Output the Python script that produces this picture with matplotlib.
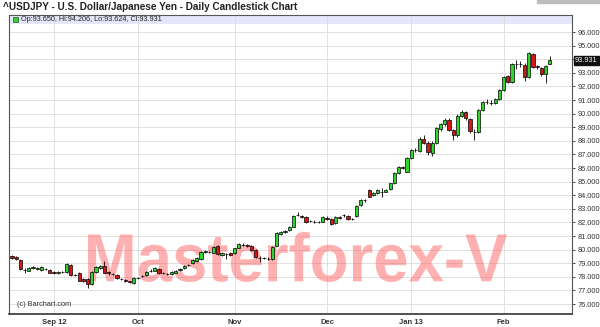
import matplotlib
matplotlib.use("Agg")
import matplotlib.pyplot as plt
from matplotlib.font_manager import FontProperties
from matplotlib.patches import PathPatch, Rectangle
from matplotlib.textpath import TextPath
from matplotlib.transforms import Affine2D, blended_transform_factory

plt.rcParams["font.family"] = ["Liberation Sans", "DejaVu Sans"]

# daily USDJPY, 2012-08-20 .. 2013-02-18 (trading-day index)
opens = [79.53, 79.43, 79.24, 78.52, 78.45, 78.68, 78.58, 78.50, 78.58, 78.50,
         78.32, 78.30, 78.36, 78.33, 78.87, 78.15, 78.25, 77.81, 77.81, 77.45,
         78.33, 78.62, 78.79, 78.38, 78.23, 78.13, 77.83, 77.74, 77.66, 77.57,
         77.92, 78.05, 78.13, 78.43, 78.45, 78.55, 78.27, 78.22, 78.20, 78.30,
         78.53, 78.62, 78.85, 79.00, 79.19, 79.30, 79.85, 79.82, 79.78, 80.26,
         79.60, 79.68, 79.77, 79.75, 80.15, 80.36, 80.31, 80.26, 79.97, 79.38,
         79.38, 79.33, 79.28, 80.30, 81.12, 81.33, 81.42, 81.69, 82.52, 82.44,
         82.38, 82.08, 82.06, 82.04, 82.05, 82.35, 82.25, 81.93, 82.36, 82.52,
         82.49, 82.26, 82.45, 83.28, 83.62, 84.38, 84.01, 84.19, 84.27, 84.26,
         84.43, 84.87, 85.61, 86.10, 85.73, 86.71, 87.30, 87.22, 88.10, 87.85,
         87.10, 87.85, 88.85, 89.20, 89.50, 88.80, 88.40, 89.85, 90.10, 89.60,
         88.68, 88.67, 90.25, 90.85, 90.80, 90.75, 91.05, 91.74, 92.76, 92.35,
         93.63, 93.62, 93.57, 92.72, 94.38, 93.46, 93.33, 92.91, 93.650]
highs = [79.62, 79.50, 79.30, 78.62, 78.70, 78.78, 78.75, 78.76, 78.66, 78.58,
         78.40, 78.42, 78.45, 79.00, 78.95, 78.22, 78.32, 77.90, 77.88, 78.40,
         78.78, 78.85, 79.19, 78.45, 78.30, 78.20, 77.90, 77.82, 77.72, 77.95,
         78.02, 78.15, 78.45, 78.58, 78.70, 78.62, 78.35, 78.30, 78.45, 78.52,
         78.62, 78.85, 78.95, 79.30, 79.42, 79.92, 79.95, 79.92, 80.30, 80.35,
         79.82, 79.78, 79.85, 80.15, 80.45, 80.50, 80.42, 80.32, 80.02, 79.50,
         79.48, 79.42, 80.30, 81.28, 81.40, 81.45, 81.75, 82.55, 82.79, 82.55,
         82.45, 82.18, 82.15, 82.12, 82.48, 82.45, 82.30, 82.48, 82.45, 82.65,
         82.58, 82.35, 83.28, 83.70, 83.75, 84.45, 84.25, 84.42, 84.50, 84.45,
         84.92, 85.68, 86.15, 86.18, 86.78, 87.40, 87.45, 88.25, 88.45, 87.95,
         87.95, 89.00, 89.30, 89.65, 89.65, 88.90, 89.95, 90.25, 90.20, 89.70,
         88.85, 90.35, 90.95, 91.05, 91.00, 91.15, 91.80, 92.75, 92.85, 93.72,
         93.95, 93.90, 93.70, 94.50, 94.45, 93.60, 93.45, 93.60, 94.206]
lows = [79.30, 79.20, 78.48, 78.25, 78.40, 78.60, 78.52, 78.45, 78.48, 78.25,
        78.22, 78.24, 78.28, 78.28, 78.05, 78.05, 77.68, 77.65, 77.15, 77.40,
        78.28, 78.55, 78.25, 78.15, 78.12, 77.85, 77.74, 77.65, 77.55, 77.45,
        77.85, 77.98, 78.08, 78.36, 78.40, 78.20, 78.18, 78.12, 78.15, 78.25,
        78.45, 78.58, 78.78, 78.95, 79.12, 79.25, 79.75, 79.72, 79.72, 79.60,
        79.52, 79.28, 79.55, 79.70, 80.10, 80.25, 80.20, 79.92, 79.38, 79.11,
        79.28, 79.22, 79.22, 80.25, 81.05, 81.25, 81.38, 81.65, 82.45, 82.35,
        81.98, 82.00, 81.98, 81.96, 82.00, 82.18, 81.80, 81.88, 82.28, 82.40,
        82.20, 82.18, 82.40, 83.22, 83.50, 83.85, 83.95, 84.12, 83.90, 84.20,
        84.38, 84.80, 85.55, 85.90, 85.68, 86.65, 87.15, 87.15, 87.75, 86.95,
        86.85, 87.78, 88.75, 89.10, 88.70, 88.05, 88.30, 89.78, 89.55, 88.60,
        88.05, 88.60, 90.20, 90.70, 90.65, 90.70, 91.00, 91.65, 92.25, 92.28,
        93.30, 93.40, 92.40, 92.65, 93.35, 93.30, 92.80, 92.23, 93.624]
closes = [79.36, 79.28, 78.55, 78.50, 78.62, 78.70, 78.68, 78.70, 78.55, 78.30,
          78.30, 78.33, 78.38, 78.92, 78.13, 78.13, 77.72, 77.72, 77.45, 78.33,
          78.70, 78.79, 78.30, 78.30, 78.21, 77.89, 77.81, 77.72, 77.64, 77.89,
          77.94, 78.06, 78.38, 78.45, 78.62, 78.25, 78.25, 78.21, 78.38, 78.45,
          78.55, 78.79, 78.87, 79.24, 79.36, 79.85, 79.86, 79.80, 80.22, 79.68,
          79.75, 79.66, 79.62, 80.09, 80.38, 80.34, 80.29, 79.97, 79.43, 79.36,
          79.36, 79.28, 80.22, 81.20, 81.32, 81.35, 81.69, 82.49, 82.55, 82.42,
          82.05, 82.10, 82.05, 82.05, 82.42, 82.25, 81.88, 82.42, 82.35, 82.54,
          82.25, 82.25, 83.21, 83.65, 83.63, 83.89, 84.19, 84.38, 84.25, 84.38,
          84.87, 85.61, 86.10, 85.98, 86.71, 87.32, 87.32, 88.15, 87.85, 87.15,
          87.85, 88.95, 89.20, 89.50, 88.80, 88.40, 89.85, 90.15, 89.65, 88.70,
          88.65, 90.25, 90.88, 90.88, 90.80, 91.05, 91.74, 92.67, 92.35, 93.65,
          93.65, 93.65, 92.72, 94.43, 93.45, 93.45, 92.91, 93.50, 93.931]

month_idx = [10, 30, 53, 75, 95, 117]
month_labels = ["Sep 12", "Oct", "Nov", "Dec", "Jan 13", "Feb"]
price_ticks = list(range(76, 97))

title = "^USDJPY - U.S. Dollar/Japanese Yen - Daily Candlestick Chart"
quote = "Op:93.650, Hi:94.206, Lo:93.624, Cl:93.931"
watermark = "Masterforex-V"

W, H = 600, 327
fig = plt.figure(figsize=(W / 100, H / 100), dpi=100)
fig.patch.set_facecolor("white")
ax = fig.add_axes([9 / W, 1 - 314 / H, (572 - 9) / W, (314 - 15) / H])

x = list(range(len(closes)))
up = [c >= o for o, c in zip(opens, closes)]
body_lo = [min(o, c) for o, c in zip(opens, closes)]
body_h = [max(abs(c - o), 0.015) for o, c in zip(opens, closes)]
colors = ["#2fd42f" if u else "#d01818" for u in up]

ax.vlines(x, lows, highs, color="black", linewidth=0.6, zorder=3)
ax.bar(x, body_h, bottom=body_lo, width=0.76, color=colors,
       edgecolor="black", linewidth=0.5, zorder=4)

ax.set_xlim(-0.72, 133.3)
ax.set_ylim(75.265, 97.25)

# lavender quote band
ax.axhspan(96.59, 97.25, color="#e6e6fa", zorder=0.2, linewidth=0)
ax.plot([0.0107], [0.985], marker="s", markersize=3.6, color="#2fd42f",
        markeredgecolor="#225522", markeredgewidth=0.5,
        transform=ax.transAxes, clip_on=False, zorder=5)
ax.text(0.021, 0.985, quote, transform=ax.transAxes, fontsize=5.2,
        color="#222222", va="center", ha="left", zorder=5)

# the 94.000 label sits under the last-price tag, as in the original
last = closes[-1]
ax.set_yticks(price_ticks)
ax.set_yticklabels(["" if abs(p - last) < 0.5 else f"{p:.3f}" for p in price_ticks])
ax.yaxis.tick_right()
ax.set_xticks(month_idx)
ax.set_xticklabels(month_labels, fontweight="bold")
ax.tick_params(axis="y", labelsize=5.3, length=2.5, width=0.6, pad=1.5,
               colors="#333333")
ax.tick_params(axis="x", labelsize=5.5, length=0, pad=3.5, colors="#333333")
ax.grid(True, color="#dcdcdc", linewidth=0.6)
ax.set_axisbelow(True)

for side in ["top", "right", "left"]:
    ax.spines[side].set_color("#555555")
    ax.spines[side].set_linewidth(0.8)
ax.spines["bottom"].set_color("#444444")
ax.spines["bottom"].set_linewidth(1.3)

# last price tag
tag_tr = blended_transform_factory(ax.transAxes, ax.transData)
ax.text(1.0055, last, f"{last:.3f}", transform=tag_tr,
        fontsize=5.3, color="white", va="center", ha="left", zorder=10,
        clip_on=False,
        bbox=dict(boxstyle="square,pad=0.15", facecolor="#111111",
                  edgecolor="#111111"))

ax.text(0.014, 0.032, "(c) Barchart.com", transform=ax.transAxes,
        fontsize=5.3, color="#333333", va="center", ha="left", zorder=5)

# watermark, drawn in pixel space
fp = FontProperties(family="Liberation Sans", weight="bold")
tp = TextPath((0, 0), watermark, size=100, prop=fp)
bb = tp.get_extents()
wm_left, wm_right, wm_bottom, wm_top = 88, 507, H - 282, H - 232
sx = (wm_right - wm_left) / bb.width
sy = (wm_top - wm_bottom) / bb.height
wm_tr = Affine2D().translate(-bb.x0, -bb.y0).scale(sx, sy).translate(wm_left, wm_bottom)
wm = PathPatch(tp, transform=wm_tr, facecolor="#ff5c5c", edgecolor="none",
               alpha=0.48, zorder=2)
ax.add_artist(wm)

fig.text(3 / W, 1 - 6.5 / H, title, fontsize=7.2, fontweight="bold",
         color="#222222", va="center", ha="left")
fig.patches.append(Rectangle((537 / W, 1 - 3 / H), 63 / W, 3 / H,
                             transform=fig.transFigure, color="#bdbdbd"))

fig.savefig("out.png", dpi=100)
